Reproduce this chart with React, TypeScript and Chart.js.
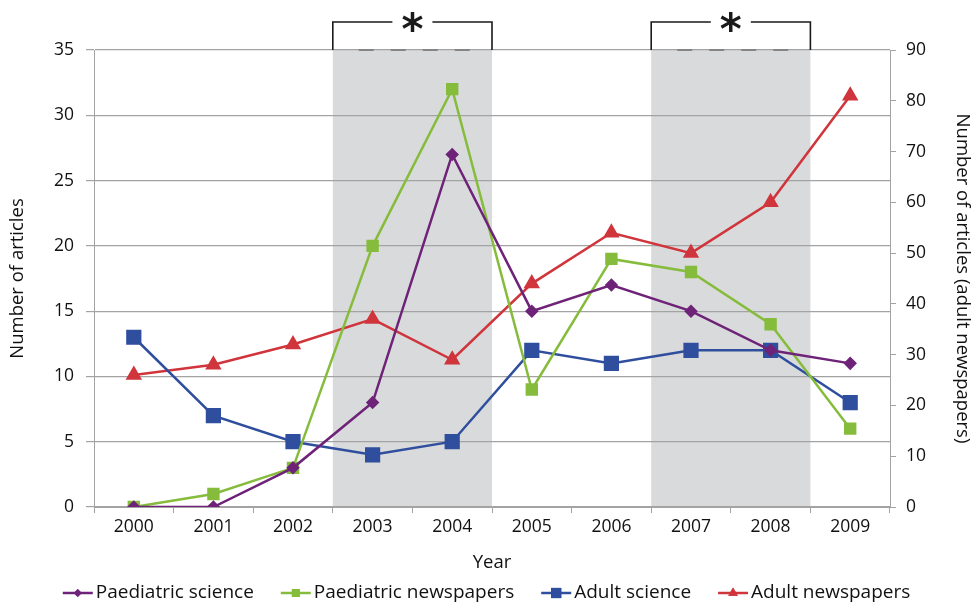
import React, { useEffect, useRef } from "react";
import { Chart, registerables } from "chart.js";
import { drawPoint } from "chart.js/helpers";

Chart.register(...registerables);

const years = ["2000", "2001", "2002", "2003", "2004", "2005", "2006", "2007", "2008", "2009"];
const paediatricScience = [0, 0, 3, 8, 27, 15, 17, 15, 12, 11];
const paediatricNewspapers = [0, 1, 3, 20, 32, 9, 19, 18, 14, 6];
const adultScience = [13, 7, 5, 4, 5, 12, 11, 12, 12, 8];
const adultNewspapers = [26, 28, 32, 37, 29, 44, 54, 50, 60, 81];
const shadedRanges = [
  ["2003", "2004"],
  ["2007", "2008"],
];
const leftTicks = { min: 0, max: 35, step: 5 };
const rightTicks = { min: 0, max: 90, step: 10 };

const FONT_FAMILY = "'Open Sans', sans-serif";
const TICK_SIZE = 17.5;
const TITLE_SIZE = 18.5;
const LEGEND_SIZE = 19;
const GRID = "#a3a3a3";
const SHADE = "#d9dadb";

export default function App() {
  const ref = useRef<HTMLCanvasElement | null>(null);

  useEffect(() => {
    document.body.style.margin = "0";
    const canvas = ref.current;
    if (!canvas) return;

    const shadePlugin = {
      id: "shadePlugin",
      beforeDraw(chart: any) {
        const { ctx, chartArea } = chart;
        const x = chart.scales.x;
        const half = (x.getPixelForValue(1) - x.getPixelForValue(0)) / 2;
        ctx.save();
        ctx.fillStyle = SHADE;
        shadedRanges.forEach(([a, b]) => {
          const l = x.getPixelForValue(years.indexOf(a)) - half;
          const r = x.getPixelForValue(years.indexOf(b)) + half;
          ctx.fillRect(l, chartArea.top, r - l, chartArea.bottom - chartArea.top);
        });
        ctx.restore();
      },
      afterDraw(chart: any) {
        const { ctx, chartArea } = chart;
        const x = chart.scales.x;
        const half = (x.getPixelForValue(1) - x.getPixelForValue(0)) / 2;
        const top = chartArea.top;
        const by = top - 28;
        ctx.save();
        shadedRanges.forEach(([a, b]) => {
          const l = x.getPixelForValue(years.indexOf(a)) - half;
          const r = x.getPixelForValue(years.indexOf(b)) + half;
          const c = (l + r) / 2;
          ctx.strokeStyle = "#858585";
          ctx.lineWidth = 2;
          ctx.setLineDash([15, 17]);
          ctx.beginPath();
          ctx.moveTo(l + 26, top);
          ctx.lineTo(r - 8, top);
          ctx.stroke();
          ctx.setLineDash([]);
          ctx.strokeStyle = "#1a1a1a";
          ctx.lineWidth = 1.6;
          ctx.beginPath();
          ctx.moveTo(l, top);
          ctx.lineTo(l, by);
          ctx.lineTo(c - 20, by);
          ctx.moveTo(c + 20, by);
          ctx.lineTo(r, by);
          ctx.lineTo(r, top);
          ctx.stroke();
          ctx.fillStyle = "#1a1a1a";
          ctx.font = `bold 42px 'DejaVu Sans', sans-serif`;
          ctx.textAlign = "center";
          ctx.textBaseline = "alphabetic";
          const m = ctx.measureText("*");
          const asc = m.actualBoundingBoxAscent;
          const desc = m.actualBoundingBoxDescent;
          const baseY = by + (asc - desc) / 2;
          ctx.fillText("*", c, baseY);
        });

        const items = [
          { label: "Paediatric science", color: "#6e2378", style: "rectRot", radius: 5 },
          { label: "Paediatric newspapers", color: "#86bc3c", style: "rect", radius: 7 },
          { label: "Adult science", color: "#2f4e9e", style: "rect", radius: 9 },
          { label: "Adult newspapers", color: "#d0353c", style: "triangle", radius: 7 },
        ];
        ctx.font = `${LEGEND_SIZE}px ${FONT_FAMILY}`;
        const lineLen = 30;
        const gapText = 3;
        const gapItem = 27;
        const widths = items.map((it) => ctx.measureText(it.label).width);
        const total =
          widths.reduce((s, w) => s + w, 0) + items.length * (lineLen + gapText) + gapItem * (items.length - 1);
        let cx = (chart.width - total) / 2;
        const ly = 593;
        items.forEach((it, i) => {
          ctx.strokeStyle = it.color;
          ctx.fillStyle = it.color;
          ctx.lineWidth = 2.5;
          ctx.beginPath();
          ctx.moveTo(cx, ly);
          ctx.lineTo(cx + lineLen, ly);
          ctx.stroke();
          drawPoint(ctx, { pointStyle: it.style, radius: it.radius * 0.8, rotation: 0, borderWidth: 0 } as any, cx + lineLen / 2, ly);
          ctx.fill();
          ctx.fillStyle = "#111";
          ctx.textAlign = "left";
          ctx.textBaseline = "middle";
          ctx.fillText(it.label, cx + lineLen + gapText, ly);
          cx += lineLen + gapText + widths[i] + gapItem;
        });
        ctx.restore();
      },
    };

    const tickFont = { family: FONT_FAMILY, size: TICK_SIZE };
    const titleFont = { family: FONT_FAMILY, size: TITLE_SIZE };

    const chart = new Chart(canvas, {
      type: "line",
      data: {
        labels: years,
        datasets: [
          {
            label: "Paediatric science",
            data: paediatricScience,
            yAxisID: "y",
            borderColor: "#6e2378",
            backgroundColor: "#6e2378",
            pointStyle: "rectRot",
            pointRadius: 5,
            borderWidth: 2.5,
            tension: 0,
          },
          {
            label: "Paediatric newspapers",
            data: paediatricNewspapers,
            yAxisID: "y",
            borderColor: "#86bc3c",
            backgroundColor: "#86bc3c",
            pointStyle: "rect",
            pointRadius: 7,
            borderWidth: 2.5,
            tension: 0,
          },
          {
            label: "Adult science",
            data: adultScience,
            yAxisID: "y",
            borderColor: "#2f4e9e",
            backgroundColor: "#2f4e9e",
            pointStyle: "rect",
            pointRadius: 9,
            borderWidth: 2.5,
            tension: 0,
          },
          {
            label: "Adult newspapers",
            data: adultNewspapers,
            yAxisID: "y2",
            borderColor: "#d0353c",
            backgroundColor: "#d0353c",
            pointStyle: "triangle",
            pointRadius: 7,
            borderWidth: 2.5,
            tension: 0,
          },
        ],
      },
      options: {
        responsive: false,
        animation: false,
        layout: { padding: { top: 50, left: 0, right: 0, bottom: 0 } },
        plugins: {
          legend: { display: false },
          tooltip: { enabled: false },
        },
        scales: {
          x: {
            type: "category",
            offset: true,
            grid: { display: true, drawOnChartArea: false, offset: true, tickLength: 6, color: GRID },
            border: { color: GRID, width: 1 },
            ticks: { font: tickFont, color: "#111", padding: 4, maxRotation: 0 },
            title: { display: true, text: "Year", font: titleFont, color: "#111", padding: { top: 0, bottom: 30 } },
            afterFit: (s: any) => {
              s.height = 97;
            },
          },
          y: {
            position: "left",
            min: leftTicks.min,
            max: leftTicks.max,
            ticks: { stepSize: leftTicks.step, font: tickFont, color: "#111", padding: 12 },
            grid: { color: GRID, tickLength: 8, lineWidth: 1.2 },
            border: { color: GRID, width: 1 },
            title: {
              display: true,
              text: "Number of articles",
              font: titleFont,
              color: "#111",
              padding: { top: 7, bottom: 0 },
            },
            afterFit: (s: any) => {
              s.width = 94;
            },
          },
          y2: {
            position: "right",
            min: rightTicks.min,
            max: rightTicks.max,
            ticks: { stepSize: rightTicks.step, font: tickFont, color: "#111", padding: 10 },
            grid: { drawOnChartArea: false, color: GRID, tickLength: 6 },
            border: { color: GRID, width: 1 },
            title: {
              display: true,
              text: "Number of articles (adult newspapers)",
              font: titleFont,
              color: "#111",
              padding: { top: 0, bottom: 0 },
            },
            afterFit: (s: any) => {
              s.width = 83;
            },
          },
        },
      },
      plugins: [shadePlugin],
    });

    return () => chart.destroy();
  }, []);

  return (
    <div style={{ width: 973, height: 604 }}>
      <canvas ref={ref} width={973} height={604} />
    </div>
  );
}
